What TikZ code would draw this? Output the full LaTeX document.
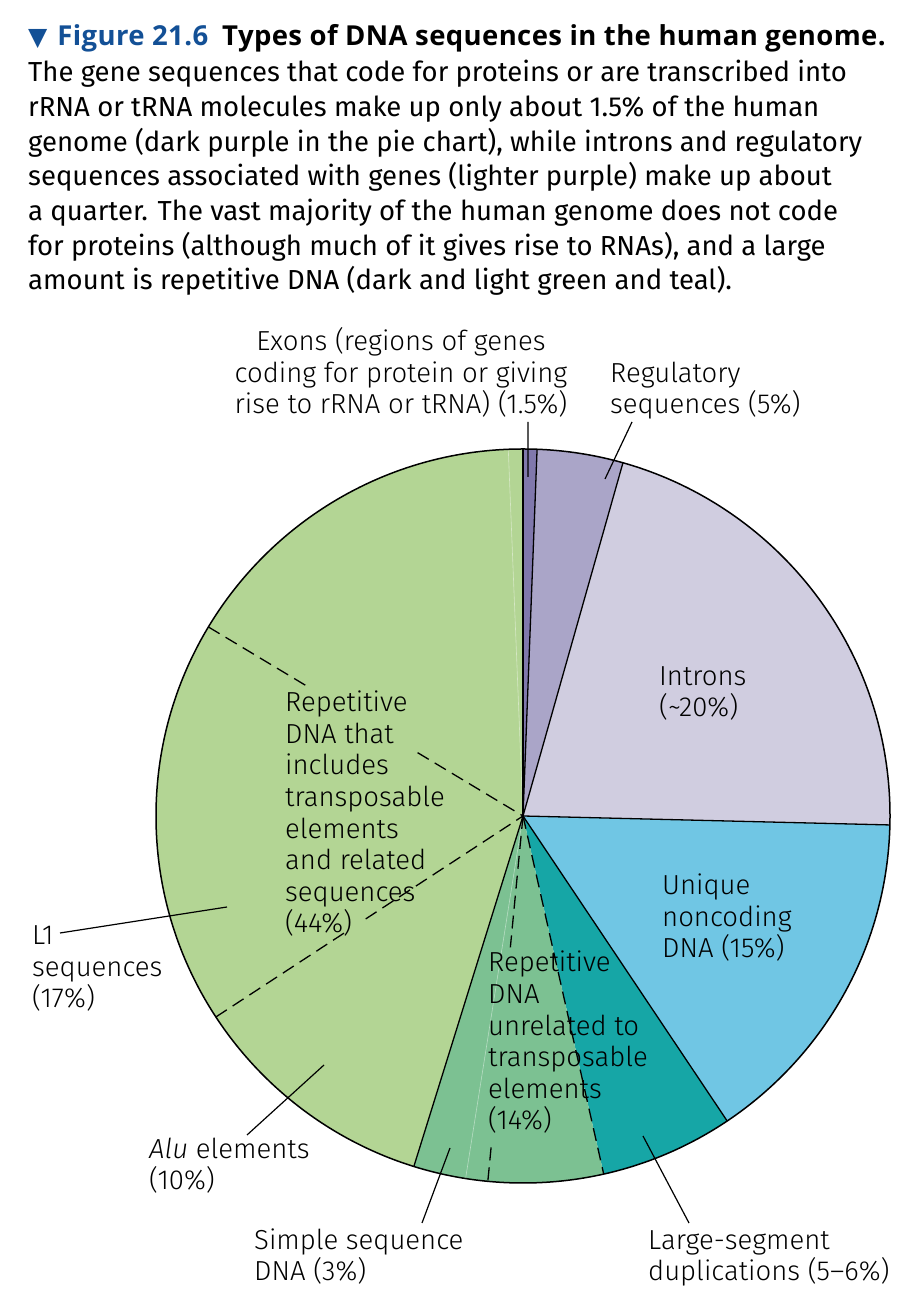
\documentclass[tikz,border=0pt]{standalone}
\usepackage{fontspec}
\setmainfont{Fira Sans}
\newfontfamily\lightfont{Fira Sans}[UprightFont={* Light},ItalicFont={* Light Italic}]
\newfontfamily\headfont{Open Sans}[LetterSpace=1.4]
\newfontfamily\symfont{DejaVu Sans}
\definecolor{figblue}{RGB}{19,80,150}
\definecolor{exonpurple}{RGB}{128,120,172}
\definecolor{regpurple}{RGB}{170,165,200}
\definecolor{intronlilac}{RGB}{208,205,224}
\definecolor{uniqueblue}{RGB}{112,198,228}
\definecolor{dupteal}{RGB}{22,166,166}
\definecolor{repgreen}{RGB}{124,193,146}
\definecolor{transgreen}{RGB}{179,213,148}
\begin{document}
\begin{tikzpicture}[x=1pt,y=1pt,
  lbl/.style={font=\lightfont\fontsize{27.5}{31.6}\selectfont,align=left,anchor=base west,inner sep=0pt},
  rim/.style={line width=1.3pt},
  lead/.style={line width=1.2pt},
  seam/.style={line width=1.3pt,dash pattern=on 13pt off 7pt},
  ghost/.style={white,opacity=.45,line width=.6pt}]
\useasboundingbox (0,0) rectangle (923,1316);
\def\R{367}
% caption
\node[anchor=base west,inner sep=0pt,font=\headfont\bfseries\fontsize{27.5}{30}\selectfont] (title) at (28,1270)
  {{\symfont\color{figblue}\fontsize{25}{28}\selectfont▼}\hspace{10pt}\textcolor{figblue}{Figure 21.6}\hspace{14pt}Types of DNA sequences in the human genome.};
\node[anchor=base west,inner sep=0pt,align=left,font=\fontsize{27.5}{34.7}\selectfont] (caption) at (28,1026)
  {The gene sequences that code for proteins or are transcribed into\\
   rRNA or tRNA molecules make up only about 1.5\% of the human\\
   genome (dark purple in the pie chart), while introns and regulatory\\
   sequences associated with genes (lighter purple) make up about\\
   a quarter. The vast majority of the human genome does not code\\
   for proteins (although much of it gives rise to RNAs), and a large\\
   amount is repetitive DNA (dark and light green and teal).};
% pie
\coordinate (O) at (523,500);
\begin{scope}[shift={(O)}]
\foreach \a/\b/\c in {87.8/90/exonpurple,74.2/87.8/regpurple,-1.4/74.2/intronlilac,
    -56.2/-1.4/uniqueblue,-77.3/-56.2/dupteal,-107.3/-77.3/repgreen,90/252.7/transgreen}
  \fill[\c] (0,0) -- (\a:\R) arc[start angle=\a,end angle=\b,radius=\R] -- cycle;
\draw[ghost] (0,0) -- (92.3:\R) (0,0) -- (-99:\R);
\foreach \a in {90,87.8,74.2,-1.4,-56.2,-107.3}
  \draw[rim] (0,0) -- (\a:\R);
\draw[seam] (0,0) -- (-77.3:\R);
\draw[seam] (0,0) -- (-95.5:132) (-95.5:333) -- (-95.5:\R);
\draw[seam] (149:\R) -- (149:248) (149:123) -- (0,0);
\draw[seam] (213.2:\R) -- (213.2:213) (213.2:188) -- (0,0);
\draw[line width=1.5pt] (0,0) circle[radius=\R];
\end{scope}
% labels
\node[lbl,align=center,anchor=base] (exon) at (401,902) {Exons (regions of genes\\coding for protein or giving\\rise to rRNA or tRNA) (1.5\%)};
\node[lbl] (reg) at (610,902) {Regulatory\\sequences (5\%)};
\node[lbl] (intr) at (659,599) {Introns\\(\textasciitilde20\%)};
\node[lbl] (uniq) at (662,358) {Unique\\noncoding\\DNA (15\%)};
\node[lbl] (trans) at (285,383) {Repetitive\\DNA that\\includes\\transposable\\elements\\and related\\sequences\\(44\%)};
\node[lbl] (lone) at (32,308) {L1\\sequences\\(17\%)};
\node[lbl] (unrel) at (488,186) {Repetitive\\DNA\\unrelated to\\transposable\\elements\\(14\%)};
\node[lbl] (alu) at (149,126) {\textit{Alu} elements\\(10\%)};
\node[lbl] (simple) at (254,35) {Simple sequence\\DNA (3\%)};
\node[lbl] (large) at (648,35) {Large-segment\\duplications (5–6\%)};
% leaders
\coordinate (exonA) at (528,894); \coordinate (exonB) at (528,839);
\coordinate (regA) at (632,894); \coordinate (regB) at (605,837);
\coordinate (loneA) at (60,383); \coordinate (loneB) at (227,409);
\coordinate (aluA) at (247,181); \coordinate (aluB) at (324,251);
\coordinate (simpleA) at (422,93); \coordinate (simpleB) at (450,168);
\coordinate (largeA) at (689,93); \coordinate (largeB) at (643,180);
\draw[lead] (exonA) -- (exonB) (regA) -- (regB) (loneA) -- (loneB)
  (aluA) -- (aluB) (simpleA) -- (simpleB) (largeA) -- (largeB);
\end{tikzpicture}
\end{document}
